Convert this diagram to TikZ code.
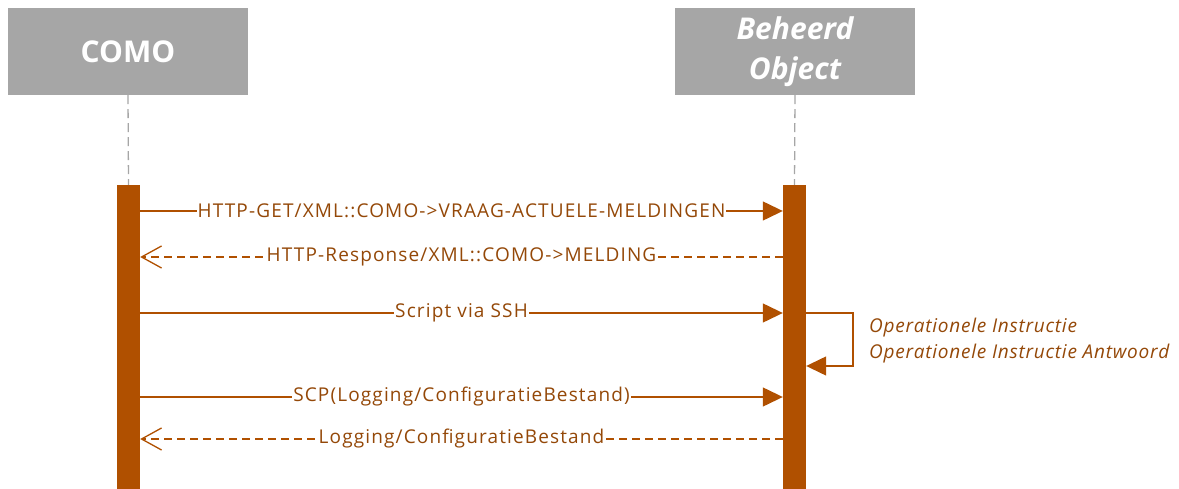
\documentclass[tikz,border=0pt]{standalone}
\usepackage{fontspec}
\setmainfont{Open Sans}
\usetikzlibrary{arrows.meta}
\definecolor{barc}{HTML}{B05000}
\definecolor{txtc}{HTML}{944808}
\definecolor{hdrc}{HTML}{A6A6A6}
\tikzset{
  header/.style={fill=hdrc, draw=none, minimum width=240pt, minimum height=87pt, inner sep=0pt, text=white, font=\bfseries\fontsize{30}{36}\selectfont, align=center},
  actbar/.style={fill=barc, draw=none, minimum width=23pt, minimum height=304pt, inner sep=0pt},
  life/.style={draw=hdrc, line width=1.3pt, dash pattern=on 9pt off 5pt},
  msg/.style={draw=barc, line width=1.3pt, -{Triangle[length=20pt,width=19pt]}},
  reply/.style={draw=barc, line width=1.3pt, dash pattern=on 8pt off 5pt, -{Straight Barb[length=20pt,width=22pt,line width=1.3pt]}},
  lbl/.style={fill=white, text=txtc, inner sep=1pt, font=\fontsize{19}{22}\selectfont\addfontfeatures{LetterSpace=6}},
  selflbl/.style={text=txtc, inner sep=0pt, font=\itshape\fontsize{19}{26}\selectfont\addfontfeatures{LetterSpace=4}, align=left, anchor=west}
}
\begin{document}
\begin{tikzpicture}[x=1pt,y=-1pt]
\useasboundingbox (0,0) rectangle (1179,489);
\node[header] (como) at (128,51.5) {COMO};
\node[header, font=\bfseries\itshape\fontsize{30}{40}\selectfont] (obj) at (795,51.5) {Beheerd\\Object};
\node[actbar] (a1) at (128.5,337) {};
\node[actbar] (a2) at (794.5,337) {};
\draw[life] (como.south) -- (a1.north);
\draw[life] (obj.south) -- (a2.north);
\coordinate (r1) at (0,211);
\coordinate (r2) at (0,257);
\coordinate (r3) at (0,313);
\coordinate (r4) at (0,397);
\coordinate (r5) at (0,439);
\coordinate (sc) at (853,366);
\draw[msg] (a1.east |- r1) -- node[lbl] {HTTP-GET/XML::COMO->VRAAG-ACTUELE-MELDINGEN} (a2.west |- r1);
\draw[reply] (a2.west |- r2) -- node[lbl] {HTTP-Response/XML::COMO->MELDING} (a1.east |- r2);
\draw[msg] (a1.east |- r3) -- node[lbl] {Script via SSH} (a2.west |- r3);
\draw[msg] (a2.east |- r3) -| (sc) -- (a2.east |- sc);
\node[selflbl] (sl) at (869,341) {Operationele Instructie\\Operationele Instructie Antwoord};
\draw[msg] (a1.east |- r4) -- node[lbl] {SCP(Logging/ConfiguratieBestand)} (a2.west |- r4);
\draw[reply] (a2.west |- r5) -- node[lbl] {Logging/ConfiguratieBestand} (a1.east |- r5);
\end{tikzpicture}
\end{document}
